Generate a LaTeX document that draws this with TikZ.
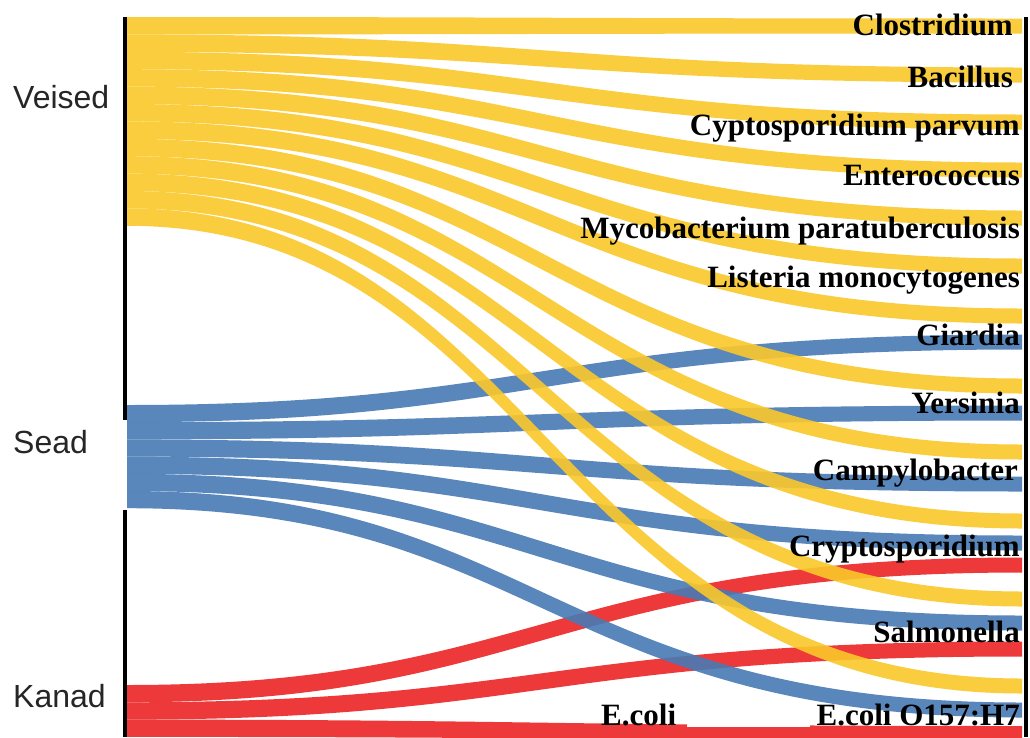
\documentclass[tikz,border=0pt]{standalone}
\usepackage{fontspec}
\setmainfont{Liberation Serif}
\newfontfamily\lsans{Liberation Sans}
\definecolor{vyel}{RGB}{250,200,42}
\definecolor{vblue}{RGB}{72,122,180}
\definecolor{vred}{RGB}{236,36,36}
\newcommand{\sband}[5]{% colour, left top, left thickness, right centre, right thickness
  \pgfmathsetmacro\ya{#2}%
  \pgfmathsetmacro\yb{#2+#3}%
  \pgfmathsetmacro\yc{#4-#5/2}%
  \pgfmathsetmacro\yd{#4+#5/2}%
  \fill[#1,band] (127,\ya) .. controls (535,\ya) and (555,\yc) .. (1022,\yc)
     -- (1022,\yd) .. controls (555,\yd) and (535,\yb) .. (127,\yb) -- cycle;}
\begin{document}
\begin{tikzpicture}[x=1pt,y=-1pt,
  band/.style={fill opacity=0.9},
  rlab/.style={font=\bfseries\fontsize{31}{31}\selectfont, anchor=base east, inner sep=0pt, text=black},
  llab/.style={font=\lsans\fontsize{32}{32}\selectfont, anchor=base west, inner sep=0pt, text=black!85},
  axis/.style={line width=4pt, black}]
\useasboundingbox (0,0) rectangle (1030,737);
\fill[white] (0,0) rectangle (1030,737);
% Kanad
\foreach \c/\w [count=\i from 0] in {565/15,649/15,733/14} {
  \sband{vred}{685+17.3*\i}{17.3}{\c}{\w}
}
% Sead
\foreach \c [count=\i from 0] in {342,413,484,543,623,710} {
  \sband{vblue}{405+17.2*\i}{17.2}{\c}{15}
}
% Veised
\foreach \c [count=\i from 0] in {26,75,122,170,218,266,316,386,452,521,599,686} {
  \sband{vyel}{17+17.4*\i}{17.4}{\c}{15}
}
% axes
\draw[axis] (125,17) -- (125,420);
\draw[axis] (125,510) -- (125,737);
\draw[axis] (1026,17) -- (1026,737);
% left labels
\node[llab] (veised) at (13,108) {Veised};
\node[llab] (sead) at (13,453) {Sead};
\node[llab] (kanad) at (13,707) {Kanad};
% right labels
\node[rlab] (clos) at (1013,35) {Clostridium};
\node[rlab] (baci) at (1013,87) {Bacillus};
\node[rlab] (cpar) at (1020,135) {Cyptosporidium parvum};
\node[rlab] (ente) at (1020,185) {Enterococcus};
\node[rlab] (myco) at (1020,238) {Mycobacterium paratuberculosis};
\node[rlab] (list) at (1020,287) {Listeria monocytogenes};
\node[rlab] (giar) at (1020,345) {Giardia};
\node[rlab] (yers) at (1020,413) {Yersinia};
\node[rlab] (camp) at (1018,480) {Campylobacter};
\node[rlab] (cryp) at (1020,556) {Cryptosporidium};
\node[rlab] (salm) at (1020,642) {Salmonella};
\node[rlab] (eco) at (1020,725) {E.coli O157:H7};
\fill[white] (687,707) rectangle (810,727);
\node[rlab, anchor=base west] (ecoli) at (601,725) {E.coli};
\end{tikzpicture}
\end{document}
